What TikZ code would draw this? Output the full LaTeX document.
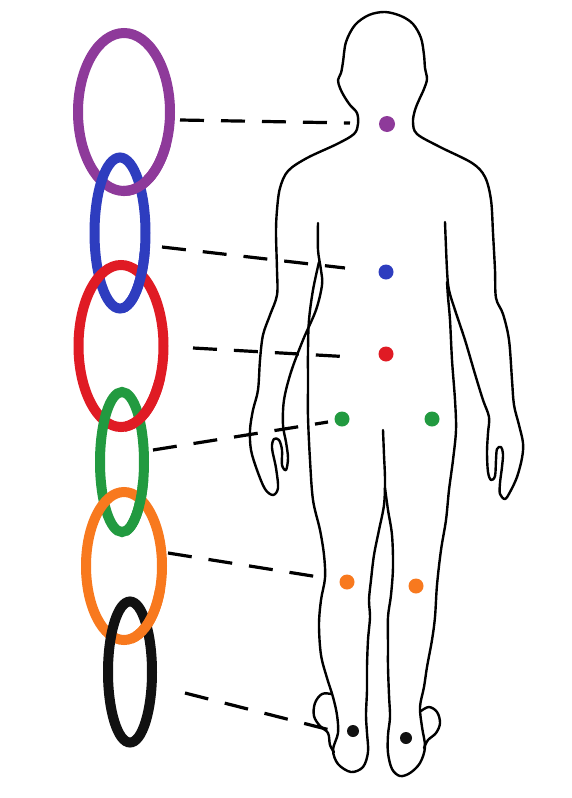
\documentclass[tikz,border=0pt]{standalone}
\begin{document}
\begin{tikzpicture}[x=1pt,y=-1pt,
  ringline/.style={line width=10pt},
  guide/.style={line width=3.2pt, dash pattern=on 24pt off 17pt},
  bodyline/.style={line width=2.4pt, line join=round, line cap=round},
  spot/.style={circle, inner sep=0pt, minimum size=#1},
  spot/.default=15pt]
\definecolor{cpurple}{HTML}{8E3A9A}
\definecolor{cblue}{HTML}{2E3DBF}
\definecolor{cred}{HTML}{E01B24}
\definecolor{cgreen}{HTML}{229A40}
\definecolor{corange}{HTML}{F8791E}
\definecolor{cblack}{HTML}{111111}

\fill[white] (0,0) rectangle (571,798);
\useasboundingbox (0,0) rectangle (571,798);

% ---------- body outline ----------
% arms, hands, head and shoulders
\draw[bodyline] plot[smooth, tension=0.55] coordinates {
 (318,223) (318,250) (321,270) (322,285) (316,310) (303,340) (291,372) (284,400)
 (283,425) (286,442) (288,458) (286,470) (282,465) (282,450) (279,440) (274,439)
 (272,448) (276,468) (278,488) (273,495) (265,489) (257,470) (251,450) (250,430)
 (253,410) (258,390) (260,360) (263,335) (270,315) (277,295) (277,270) (276,233)
 (277,210) (280,188) (288,171) (307,158) (337,144) (354,134) (358,124) (357,113)
 (350,105) (344,96) (340,88) (338,80) (341,73) (343,62) (346,42) (355,25)
 (369,15) (385,12) (401,16) (413,24) (421,38) (424,55) (425,68) (427,79)
 (424,89) (419,100) (415,110) (413,122) (417,134) (440,147) (472,163) (485,177)
 (491,200) (493,233) (495,270) (496,298) (503,314) (509,340) (512,380) (514,405)
 (519,425) (523,443) (522,458) (517,477) (510,492) (505,499) (500,494) (500,483)
 (502,467) (503,454) (501,447) (497,449) (496,460) (495,476) (491,480) (488,472)
 (487,452) (488,433) (489,417) (483,400) (475,374) (465,340) (455,310) (449,290)
 (447,270) (445,222)};
% left flank, left leg and heel, crotch
\draw[bodyline] plot[smooth, tension=0.55] coordinates {
 (319,262) (313,290) (309,320) (308,350) (308,385) (308,417) (310,460) (313,500)
 (320,530) (324,555) (325,578) (321,600) (319,625) (321,655) (327,678) (333,697)
 (337,715) (338,733) (333,750) (338,764) (351,772) (363,767) (368,752) (367,733)
 (366,715) (367,690) (367,667) (368,640) (370,617) (369,600) (371,580) (374,555)
 (379,530) (384,505) (385,480) (384,455) (383,430)};
% right leg and heel, right flank
\draw[bodyline] plot[smooth, tension=0.55] coordinates {
 (385,488) (388,510) (392,535) (393,567) (391,595) (388,617) (388,645) (388,667)
 (389,695) (390,717) (388,735) (388,753) (392,769) (400,776) (410,773) (420,763)
 (425,747) (422,727) (420,707) (424,687) (427,667) (432,640) (435,617) (437,585)
 (441,550) (446,520) (449,490) (453,460) (456,430) (455,400) (452,360) (450,320)
 (448,297) (447,282)};
% toes seen from behind
\draw[bodyline] plot[smooth, tension=0.6] coordinates {
 (331,694) (322,694) (315,703) (314,716) (320,726) (328,733) (330,745) (334,752)};
\draw[bodyline] plot[smooth, tension=0.6] coordinates {
 (421,711) (429,707) (437,712) (440,723) (436,733) (428,740) (424,748)};

% ---------- marked points ----------
\node[spot=16pt, fill=cpurple] (dneck) at (387,124) {};
\node[spot, fill=cblue] (dback) at (386,272) {};
\node[spot, fill=cred] (dloin) at (386,354) {};
\node[spot, fill=cgreen] (dhipL) at (342,419) {};
\node[spot, fill=cgreen] (dhipR) at (432,419) {};
\node[spot, fill=corange] (dkneeL) at (347,582) {};
\node[spot, fill=corange] (dkneeR) at (416,586) {};
\node[spot=12pt, fill=cblack] (dheelL) at (353,731) {};
\node[spot=12pt, fill=cblack] (dheelR) at (406,738) {};

% ---------- chain of rings ----------
\newcommand\chainring[4]{\draw[ringline, #4] (#1) ellipse [x radius=#2, y radius=#3];}
\newcommand\ringover[6]{\begin{scope}\clip #5 rectangle #6;\chainring{#1}{#2}{#3}{#4}\end{scope}}

\coordinate (rpurple) at (124,112);
\coordinate (rblue) at (120,233);
\coordinate (rred) at (121,346);
\coordinate (rgreen) at (122,462);
\coordinate (rorange) at (124,566);
\coordinate (rblack) at (130,672);

\chainring{rpurple}{46}{79}{cpurple}
\chainring{rblue}{25.5}{75.5}{cblue}
\ringover{rpurple}{46}{79}{cpurple}{(123,145)}{(185,205)}
\chainring{rred}{42.5}{81}{cred}
\ringover{rblue}{25.5}{75.5}{cblue}{(124,252)}{(185,322)}
\chainring{rgreen}{22}{70}{cgreen}
\ringover{rred}{42.5}{81}{cred}{(125,380)}{(185,442)}
\chainring{rorange}{38}{74}{corange}
\ringover{rgreen}{22}{70}{cgreen}{(127,480)}{(185,547)}
\chainring{rblack}{22}{70.5}{cblack}
\ringover{rorange}{38}{74}{corange}{(133,590)}{(185,654)}

% ---------- leader lines ----------
\coordinate (spurple) at (180,120);
\coordinate (sblue) at (162,247);
\coordinate (sred) at (193,348);
\coordinate (sgreen) at (153,450);
\coordinate (sorange) at (168,553);
\coordinate (sblack) at (185,693);
\coordinate (epurple) at (350,123);
\coordinate (eblue) at (345,268);
\coordinate (ered) at (352,357);
\coordinate (egreen) at (328,422);
\coordinate (eorange) at (325,578);
\coordinate (eblack) at (330,730);

\draw[guide] (spurple) -- (epurple);
\draw[guide] (sblue) -- (eblue);
\draw[guide] (sred) -- (ered);
\draw[guide] (sgreen) -- (egreen);
\draw[guide] (sorange) -- (eorange);
\draw[guide] (sblack) -- (eblack);
\end{tikzpicture}
\end{document}
